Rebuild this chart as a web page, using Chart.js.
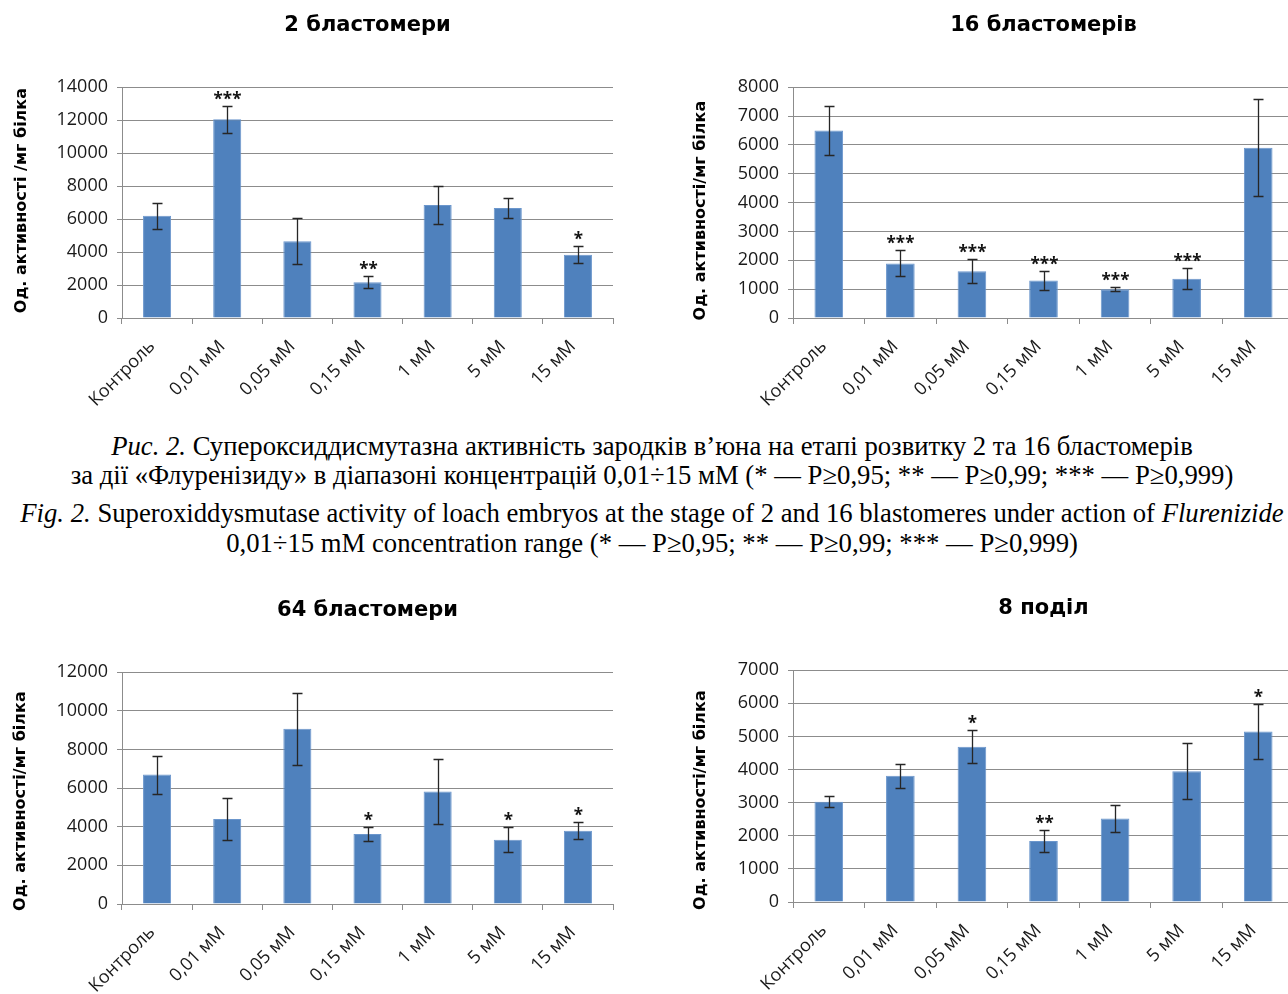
<!DOCTYPE html>
<html><head><meta charset="utf-8">
<script src="https://cdn.jsdelivr.net/npm/chart.js@4.4.0/dist/chart.umd.min.js"></script>
<style>
html,body{margin:0;padding:0;background:#fff;width:1288px;height:994px;overflow:hidden;position:relative}
canvas{position:absolute}
.cap{position:absolute;left:0;width:1304px;text-align:center;font-family:"Liberation Serif","Times New Roman",serif;font-size:26.7px;color:#000;white-space:nowrap;line-height:30px}
</style></head><body>
<canvas id="c1" width="640" height="420" style="left:0;top:0"></canvas>
<canvas id="c2" width="634" height="420" style="left:660px;top:0"></canvas>
<canvas id="c3" width="640" height="409" style="left:0;top:585px"></canvas>
<canvas id="c4" width="634" height="409" style="left:660px;top:585px"></canvas>
<div class="cap" style="top:431px"><i>Рис. 2.</i> Супероксиддисмутазна активність зародків в’юна на етапі розвитку 2 та 16 бластомерів</div>
<div class="cap" style="top:460px">за дії «Флуренізиду» в діапазоні концентрацій 0,01÷15 мМ (* — P≥0,95; ** — P≥0,99; *** — P≥0,999)</div>
<div class="cap" style="top:498px"><i>Fig. 2.</i> Superoxiddysmutase activity of loach embryos at the stage of 2 and 16 blastomeres under action of <i>Flurenizide</i></div>
<div class="cap" style="top:528px">0,01÷15 mM concentration range (* — P≥0,95; ** — P≥0,99; *** — P≥0,999)</div>
<script>
const categories = ['Контроль','0,01 мМ','0,05 мМ','0,15 мМ','1 мМ','5 мМ','15 мМ'];

const values2 = [6200, 12050, 4650, 2170, 6860, 6680, 3840];
const errors2 = [800, 830, 1400, 370, 1130, 620, 500];
const signif2 = ['', '***', '', '**', '', '', '*'];

const values16 = [6500, 1890, 1620, 1300, 1000, 1360, 5900];
const errors16 = [850, 450, 420, 320, 75, 370, 1680];
const signif16 = ['', '***', '***', '***', '***', '***', ''];

const values64 = [6700, 4400, 9070, 3620, 5830, 3330, 3790];
const errors64 = [980, 1100, 1850, 380, 1690, 660, 430];
const signif64 = ['', '', '', '*', '', '*', '*'];

const values8 = [3030, 3810, 4690, 1840, 2520, 3950, 5150];
const errors8 = [170, 360, 490, 330, 420, 840, 840];
const signif8 = ['', '', '*', '**', '', '', '*'];

const errorBarPlugin = {
  id: 'errorBars',
  afterDatasetsDraw(chart, args, opts) {
    const ctx = chart.ctx, y = chart.scales.y;
    const meta = chart.getDatasetMeta(0);
    const vals = chart.data.datasets[0].data;
    ctx.save();
    ctx.strokeStyle = '#262626';
    ctx.lineWidth = 1.3;
    meta.data.forEach((bar, i) => {
      const v = vals[i], e = opts.errors[i];
      const yT = Math.round(y.getPixelForValue(v + e)) + 0.5;
      const yB = Math.round(y.getPixelForValue(v - e)) + 0.5;
      const x = Math.round(bar.x) + 0.5;
      ctx.beginPath();
      ctx.moveTo(x, yT); ctx.lineTo(x, yB);
      ctx.moveTo(x - 5, yT); ctx.lineTo(x + 5, yT);
      ctx.moveTo(x - 5, yB); ctx.lineTo(x + 5, yB);
      ctx.stroke();
      const s = opts.signif[i];
      if (s) {
        ctx.fillStyle = '#111';
        ctx.font = 'bold 17px "Open Sans"';
        ctx.textAlign = 'center';
        ctx.textBaseline = 'alphabetic';
        ctx.fillText(s, x, yT - 2);
      }
    });
    ctx.restore();
  }
};

const yTitlePlugin = {
  id: 'yTitle',
  afterDraw(chart, args, opts) {
    const ctx = chart.ctx, a = chart.chartArea;
    ctx.save();
    ctx.translate(opts.x, (a.top + a.bottom) / 2 + opts.dy);
    ctx.rotate(-Math.PI / 2);
    ctx.fillStyle = '#000';
    ctx.font = 'bold 16px "DejaVu Sans"';
    ctx.textAlign = 'center';
    ctx.textBaseline = 'middle';
    ctx.fillText(opts.text, 0, 0);
    ctx.restore();
  }
};

function makeChart(id, title, yTitle, values, errors, signif, max, step, g) {
  return new Chart(document.getElementById(id), {
    type: 'bar',
    data: { labels: categories, datasets: [{ data: values, backgroundColor: '#4f81bd', borderColor: '#6b96cc', borderWidth: 1, barPercentage: 0.4, categoryPercentage: 1 }] },
    options: {
      responsive: false, animation: false, devicePixelRatio: 1,
      layout: { padding: { left: g.padLeft, right: g.padRight, top: 0, bottom: 0 } },
      plugins: {
        legend: { display: false }, tooltip: { enabled: false },
        title: { display: true, text: title, fullSize: false, color: '#000',
          font: { family: 'DejaVu Sans', weight: 'bold', size: 21, lineHeight: 1.2 },
          padding: { top: g.titleTop, bottom: g.titleBottom } },
        errorBars: { errors: errors, signif: signif },
        yTitle: { text: yTitle, x: g.yTitleX, dy: g.yTitleDY }
      },
      scales: {
        x: {
          grid: { offset: true, drawOnChartArea: false, drawTicks: true, tickLength: 6, color: '#8c8c8c' },
          border: { color: '#8c8c8c' },
          ticks: { minRotation: 45, maxRotation: 45, autoSkip: false, color: '#1a1a1a', padding: 12, labelOffset: -5, font: { family: 'Open Sans', size: 18 } },
          afterFit(s) { s.height = g.xHeight; }
        },
        y: {
          min: 0, max: max,
          ticks: { stepSize: step, color: '#1a1a1a', padding: 9, font: { family: 'Open Sans', size: 18 }, callback: v => String(v) },
          grid: { color: '#8c8c8c', tickLength: 5 },
          border: { color: '#8c8c8c' },
          title: { display: false },
          afterFit(s) { s.width = g.yWidth; }
        }
      }
    },
    plugins: [errorBarPlugin, yTitlePlugin]
  });
}

makeChart('c1', '2 бластомери', 'Од. активності /мг білка', values2, errors2, signif2, 14000, 2000,
  { padLeft: 11, padRight: 27, yWidth: 111, titleTop: 13, titleBottom: 49, xHeight: 102, yTitleX: 22, yTitleDY: -2 });
makeChart('c2', '16 бластомерів', 'Од. активності/мг білка', values16, errors16, signif16, 8000, 1000,
  { padLeft: 31, padRight: 0, yWidth: 102, titleTop: 13, titleBottom: 49, xHeight: 102, yTitleX: 41, yTitleDY: 8 });
makeChart('c3', '64 бластомери', 'Од. активності/мг білка', values64, errors64, signif64, 12000, 2000,
  { padLeft: 11, padRight: 27, yWidth: 111, titleTop: 13, titleBottom: 49, xHeight: 90, yTitleX: 21, yTitleDY: 13 });
makeChart('c4', '8 поділ', 'Од. активності/мг білка', values8, errors8, signif8, 7000, 1000,
  { padLeft: 31, padRight: 0, yWidth: 102, titleTop: 11, titleBottom: 49, xHeight: 92, yTitleX: 41, yTitleDY: 14 });
</script>
</body></html>
